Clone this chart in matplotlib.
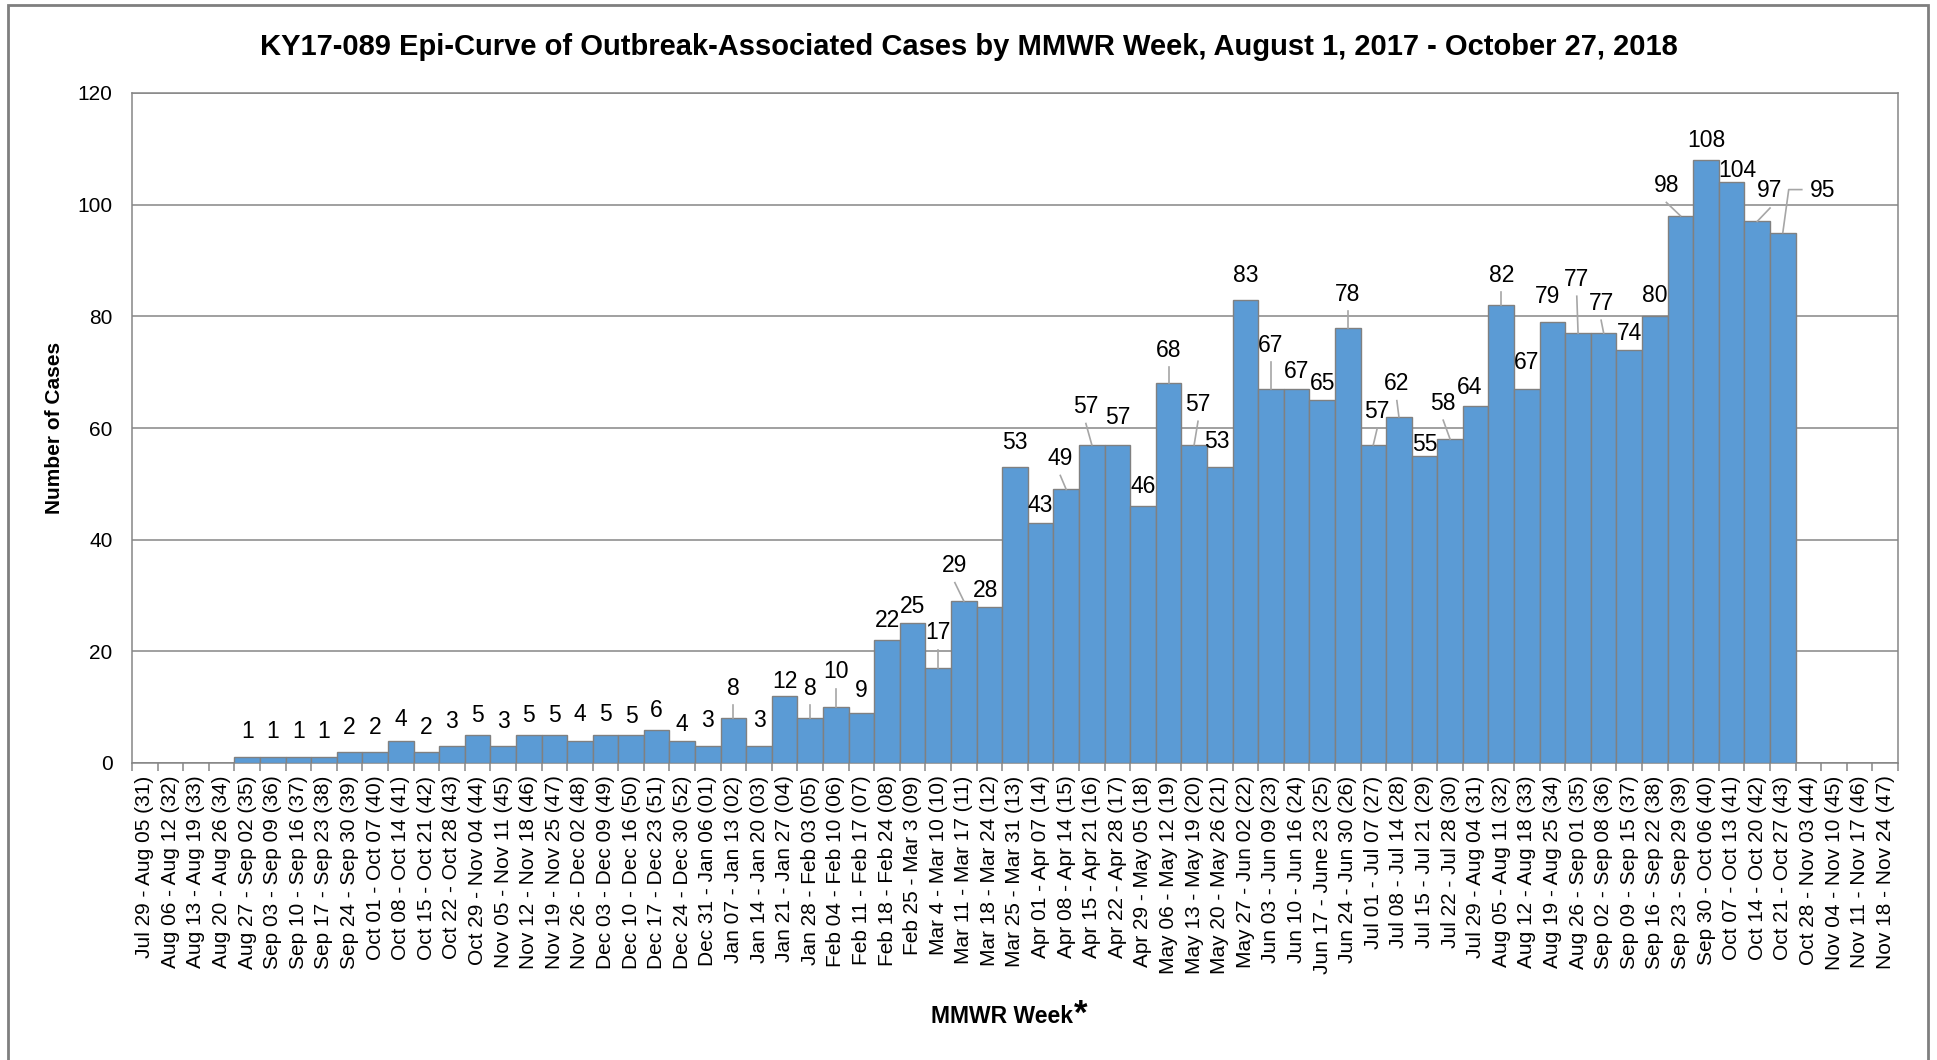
import matplotlib
matplotlib.use('Agg')
import matplotlib.pyplot as plt
from matplotlib.patches import Rectangle

plt.rcParams['font.family'] = ['Liberation Sans', 'DejaVu Sans']

# MMWR week labels (2017 wk 31 .. 2018 wk 47)
weeks = [
    'Jul 29 - Aug 05 (31)', 'Aug 06 - Aug 12 (32)', 'Aug 13 - Aug 19 (33)', 'Aug 20 - Aug 26 (34)',
    'Aug 27 - Sep 02 (35)', 'Sep 03 - Sep 09 (36)', 'Sep 10 - Sep 16 (37)', 'Sep 17 - Sep 23 (38)',
    'Sep 24 - Sep 30 (39)', 'Oct 01 - Oct 07 (40)', 'Oct 08 - Oct 14 (41)', 'Oct 15 - Oct 21 (42)',
    'Oct 22 - Oct 28 (43)', 'Oct 29 - Nov 04 (44)', 'Nov 05 - Nov 11 (45)', 'Nov 12 - Nov 18 (46)',
    'Nov 19 - Nov 25 (47)', 'Nov 26 - Dec 02 (48)', 'Dec 03 - Dec 09 (49)', 'Dec 10 - Dec 16 (50)',
    'Dec 17 - Dec 23 (51)', 'Dec 24 - Dec 30 (52)', 'Dec 31 - Jan 06 (01)', 'Jan 07 - Jan 13 (02)',
    'Jan 14 - Jan 20 (03)', 'Jan 21 - Jan 27 (04)', 'Jan 28 - Feb 03 (05)', 'Feb 04 - Feb 10 (06)',
    'Feb 11 - Feb 17 (07)', 'Feb 18 - Feb 24 (08)', 'Feb 25 - Mar 3 (09)', 'Mar 4 - Mar 10 (10)',
    'Mar 11 - Mar 17 (11)', 'Mar 18 - Mar 24 (12)', 'Mar 25 - Mar 31 (13)', 'Apr 01 - Apr 07 (14)',
    'Apr 08 - Apr 14 (15)', 'Apr 15 - Apr 21 (16)', 'Apr 22 - Apr 28 (17)', 'Apr 29 - May 05 (18)',
    'May 06 - May 12 (19)', 'May 13 - May 19 (20)', 'May 20 - May 26 (21)', 'May 27 - Jun 02 (22)',
    'Jun 03 - Jun 09 (23)', 'Jun 10 - Jun 16 (24)', 'Jun 17 - June 23 (25)', 'Jun 24 - Jun 30 (26)',
    'Jul 01 - Jul 07 (27)', 'Jul 08 - Jul 14 (28)', 'Jul 15 - Jul 21 (29)', 'Jul 22 - Jul 28 (30)',
    'Jul 29 - Aug 04 (31)', 'Aug 05 - Aug 11 (32)', 'Aug 12 - Aug 18 (33)', 'Aug 19 - Aug 25 (34)',
    'Aug 26 - Sep 01 (35)', 'Sep 02 - Sep 08 (36)', 'Sep 09 - Sep 15 (37)', 'Sep 16 - Sep 22 (38)',
    'Sep 23 - Sep 29 (39)', 'Sep 30 - Oct 06 (40)', 'Oct 07 - Oct 13 (41)', 'Oct 14 - Oct 20 (42)',
    'Oct 21 - Oct 27 (43)', 'Oct 28 - Nov 03 (44)', 'Nov 04 - Nov 10 (45)', 'Nov 11 - Nov 17 (46)',
    'Nov 18 - Nov 24 (47)',
]

cases_2017 = [0, 0, 0, 0, 1, 1, 1, 1, 2, 2, 4, 2, 3, 5, 3, 5, 5, 4, 5, 5, 6, 4]
cases_2018 = [3, 8, 3, 12, 8, 10, 9, 22, 25, 17, 29, 28, 53, 43, 49, 57, 57, 46, 68, 57,
              53, 83, 67, 67, 65, 78, 57, 62, 55, 58, 64, 82, 67, 79, 77, 77, 74, 80, 98,
              108, 104, 97, 95, 0, 0, 0, 0]
cases = cases_2017 + cases_2018

BAR = '#5B9BD5'
EDGE = '#808080'
GRID = '#868686'
LEADER = '#A6A6A6'

# label placement: index -> (dx in bars, dy above bar top in cases); leader lines for some
label_pos = {
    4: (0, 3.5), 5: (0, 3.5), 6: (0, 3.5), 7: (0, 3.5), 8: (0, 3.2), 9: (0, 3.2),
    10: (0, 2.6), 11: (0, 3.2), 12: (0, 3.3), 13: (0, 2.3), 14: (0, 3.3), 15: (0, 2.3),
    16: (0, 2.3), 17: (0, 3.5), 18: (0, 2.5), 19: (0, 2.1), 20: (0, 2.2), 21: (0, 1.7),
    22: (0, 3.4), 23: (0, 4.2), 24: (0, 3.4), 25: (0, 1.4), 26: (0, 4.2), 27: (0, 5.2),
    28: (0, 2.8), 29: (0, 2.4), 30: (0, 1.9), 31: (0, 5.2), 32: (-0.35, 5.2), 33: (-0.15, 1.7),
    34: (0, 3.3), 35: (0, 2.0), 36: (-0.23, 4.4), 37: (-0.23, 5.7), 38: (0, 3.8), 39: (0, 2.4),
    40: (0, 4.8), 41: (0.15, 6.1), 42: (-0.1, 3.5), 43: (0, 3.2), 44: (0, 6.7), 45: (0, 2.0),
    46: (0, 1.8), 47: (0, 4.8), 48: (0.15, 4.8), 49: (-0.08, 4.8), 50: (0, 0.9), 51: (-0.27, 5.3),
    52: (-0.23, 2.0), 53: (0, 4.2), 54: (0, 3.6), 55: (-0.2, 3.4), 56: (-0.05, 8.5), 57: (-0.1, 4.2),
    58: (0, 1.8), 59: (0, 2.6), 60: (-0.55, 4.3), 61: (0, 2.4), 62: (0.23, 1.0), 63: (0.5, 4.3),
    64: (1.56, 6.3),
}
leaders = {23, 26, 27, 31, 32, 36, 37, 40, 41, 44, 47, 48, 49, 51, 53, 56, 57, 60, 63}

W, H = 1937, 1060
fig = plt.figure(figsize=(W / 100, H / 100), dpi=100)
ax = fig.add_axes([132 / W, 1 - 763 / H, (1898 - 132) / W, (763 - 93) / H])

x = list(range(len(cases)))
ax.bar(x, cases, width=1.0, color=BAR, edgecolor=EDGE, linewidth=1.0, zorder=3)

ax.set_xlim(-0.5, len(cases) - 0.5)
ax.set_ylim(0, 120)
ax.set_yticks(range(0, 121, 20))
ax.yaxis.grid(True, color=GRID, linewidth=1.1, zorder=0)
ax.set_axisbelow(True)
for s in ax.spines.values():
    s.set_color(GRID)
    s.set_linewidth(1.1)
ax.tick_params(axis='y', length=0, pad=14, labelsize=15)

ax.set_xticks(x)
ax.set_xticklabels(weeks, rotation=90, fontsize=15)
ax.set_xticks([i - 0.5 for i in range(len(cases) + 1)], minor=True)
ax.tick_params(axis='x', which='major', length=0, pad=9)
ax.tick_params(axis='x', which='minor', length=6, width=1.1, color=GRID)

# data labels
for i, v in enumerate(cases):
    if v == 0:
        continue
    dx, dy = label_pos.get(i, (0, 2.0))
    ax.text(i + dx, v + dy, str(v), ha='center', va='baseline', fontsize=16.5, zorder=5)
    if i in leaders:
        ax.plot([i, i + dx], [v, v + dy - 1.9], color=LEADER, linewidth=1.2, zorder=4)
    if i == 64:
        ax.plot([i, i + 0.23, i + 0.74], [v, v + dy + 1.4, v + dy + 1.4],
                color=LEADER, linewidth=1.2, zorder=4)

# titles
fig.text(0.5, 1 - 47 / H, 'KY17-089 Epi-Curve of Outbreak-Associated Cases by MMWR Week, August 1, 2017 - October 27, 2018',
         ha='center', va='center', fontsize=21, fontweight='bold')
fig.text(55 / W, 1 - 428 / H, 'Number of Cases', rotation=90, ha='center', va='center',
         fontsize=15, fontweight='bold')
xl = fig.text(1002 / W, 1 - 1023 / H, 'MMWR Week', ha='center', va='baseline',
              fontsize=16.5, fontweight='bold')
fig.canvas.draw()
bb = xl.get_window_extent()
fig.text(bb.x1 / W + 1 / W, 1 - 1031 / H, '*', ha='left', va='bottom', fontsize=25, fontweight='bold')

# outer chart frame
fig.patches.append(Rectangle((8 / W, -0.02), 1920 / W, 1.02 - 5 / H, transform=fig.transFigure,
                             fill=False, edgecolor='#7F7F7F', linewidth=2))

fig.savefig('out.png', dpi=100, facecolor='white')
